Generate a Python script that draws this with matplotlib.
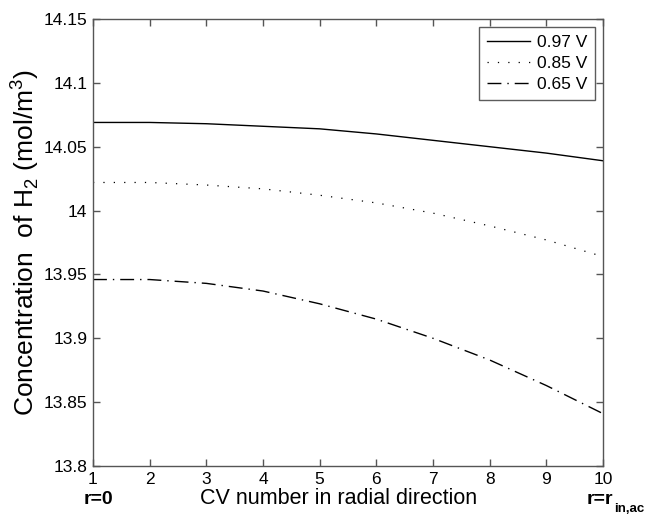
import matplotlib
matplotlib.use("Agg")
import matplotlib.pyplot as plt

plt.rcParams['font.family'] = ['Liberation Sans', 'DejaVu Sans']
plt.rcParams['mathtext.fontset'] = 'custom'
plt.rcParams['mathtext.rm'] = 'Liberation Sans'
plt.rcParams['mathtext.bf'] = 'Liberation Sans:bold'

cv = [1, 2, 3, 4, 5, 6, 7, 8, 9, 10]
v097 = [14.069, 14.069, 14.068, 14.066, 14.064, 14.060, 14.055, 14.050, 14.045, 14.039]
v085 = [14.022, 14.022, 14.020, 14.017, 14.012, 14.006, 13.998, 13.988, 13.977, 13.964]
v065 = [13.946, 13.946, 13.943, 13.937, 13.927, 13.915, 13.900, 13.883, 13.863, 13.841]
series_labels = ['0.97 V', '0.85 V', '0.65 V']
yticks = [13.8, 13.85, 13.9, 13.95, 14.0, 14.05, 14.1, 14.15]
ytick_labels = ['13.8', '13.85', '13.9', '13.95', '14', '14.05', '14.1', '14.15']
xticks = [1, 2, 3, 4, 5, 6, 7, 8, 9, 10]

W, H = 649, 519
fig = plt.figure(figsize=(W / 100, H / 100), dpi=100)
ax = fig.add_axes([93 / W, 1 - 466 / H, (603 - 93) / W, (466 - 19) / H])

ax.plot(cv, v097, color='black', lw=1.0, linestyle='-', label=series_labels[0])
ax.plot(cv, v085, color='black', lw=0.9, linestyle=(0, (1, 7.3)), label=series_labels[1])
ax.plot(cv, v065, color='black', lw=1.0, linestyle=(0, (10, 4.3, 1, 4.3)), label=series_labels[2])

ax.set_xlim(1, 10)
ax.set_ylim(13.8, 14.15)
ax.set_xticks(xticks)
ax.set_yticks(yticks)
ax.set_yticklabels(ytick_labels)

for s in ax.spines.values():
    s.set_color('#555555')
    s.set_linewidth(1.0)
ax.tick_params(direction='in', length=5, width=1, colors='#555555',
               labelcolor='black', labelsize=12.5, top=True, right=True, pad=4)

ax.set_xlabel('CV number in radial direction', fontsize=15.5)
ax.xaxis.set_label_coords(0.482, -0.049)
ax.set_ylabel(r'Concentration  of H$_2$ (mol/m$^3$)', fontsize=19, labelpad=2)

leg = ax.legend(loc='upper right', fontsize=12.5, frameon=True, fancybox=False,
                edgecolor='#333333', handlelength=2.5, borderpad=0.45,
                labelspacing=0.35, handletextpad=0.4, borderaxespad=0.45)
leg.get_frame().set_linewidth(1.0)

fig.text(98 / W, 1 - 500 / H, 'r=0', fontsize=14, fontweight='bold',
         ha='center', va='center')
fig.text(587 / W, 1 - 499 / H, 'r=r', fontsize=14, fontweight='bold',
         ha='left', va='center')
fig.text(614 / W, 1 - 509 / H, 'in,ac', fontsize=9.5, fontweight='bold',
         ha='left', va='center')

fig.savefig('out.png', dpi=100, facecolor='white')
